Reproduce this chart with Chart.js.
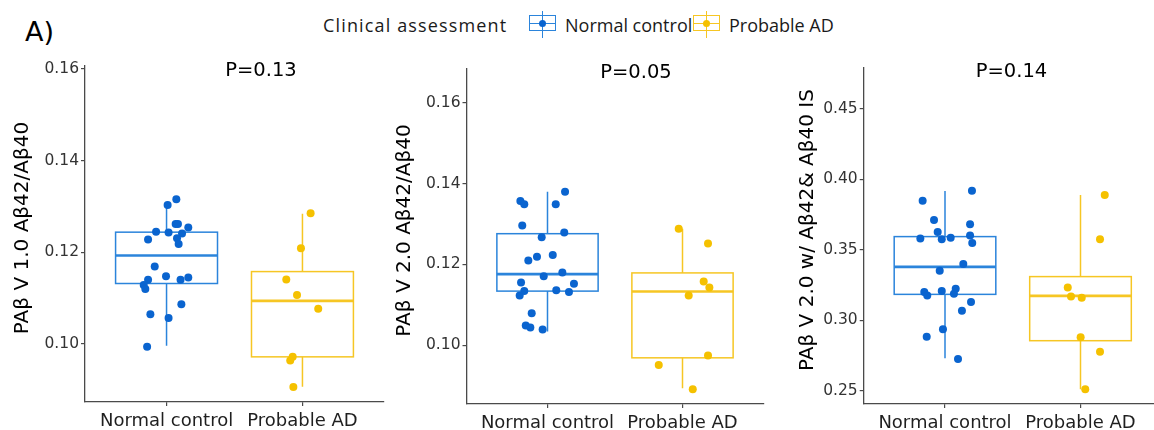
<!DOCTYPE html>
<html>
<head>
<meta charset="utf-8">
<script src="https://cdn.jsdelivr.net/npm/chart.js@4.4.1/dist/chart.umd.min.js"></script>
<style>
html,body{margin:0;padding:0;background:#ffffff;width:1154px;height:430px;overflow:hidden;position:relative}
.panel{position:absolute;top:0}
.panel canvas{display:block}
.txt{position:absolute;white-space:nowrap;line-height:1;color:#111}
.pval{position:absolute;white-space:nowrap;line-height:1;color:#000;font-family:'DejaVu Sans';font-size:19.5px;transform:translate(-50%,-50%)}
.leg{position:absolute;white-space:nowrap;line-height:1;color:#1a1a1a;font-family:'Open Sans';font-size:18px;top:15.5px}
.key{position:absolute;top:15px;width:27px;height:16px;box-sizing:border-box;border:1.5px solid}
.kv{position:absolute;top:10.5px;width:1.5px;height:27px}
.kh{position:absolute;top:22.5px;width:27px;height:1.6px}
.kd{position:absolute;top:19.5px;width:7.5px;height:7.5px;border-radius:50%}
</style>
</head>
<body>
<div class="txt" style="left:25px;top:18px;font-family:'DejaVu Sans';font-size:27px;color:#000">A)</div>

<div class="leg" style="left:323px;letter-spacing:1.15px">Clinical assessment</div>
<div class="kv" style="left:541.75px;background:#2B84DB"></div>
<div class="key" style="left:529px;border-color:#2B84DB;background:transparent"></div>
<div class="kh" style="left:529px;background:#2B84DB"></div>
<div class="kd" style="left:538.75px;background:#0A64CF"></div>
<div class="leg" style="left:565px">Normal control</div>
<div class="kv" style="left:705.75px;background:#F6C624"></div>
<div class="key" style="left:693px;border-color:#F6C624;background:transparent"></div>
<div class="kh" style="left:693px;background:#F6C624"></div>
<div class="kd" style="left:702.75px;background:#F5C100"></div>
<div class="leg" style="left:729px">Probable AD</div>

<div class="panel" style="left:0px"><canvas id="c1" width="392" height="430"></canvas></div>
<div class="panel" style="left:380px"><canvas id="c2" width="392" height="430"></canvas></div>
<div class="panel" style="left:770px"><canvas id="c3" width="400" height="430"></canvas></div>

<div class="pval" id="p1" style="left:261px;top:70px"></div>
<div class="pval" id="p2" style="left:636px;top:71.5px"></div>
<div class="pval" id="p3" style="left:1011.5px;top:71px"></div>

<script>
// ---------------- data ----------------
const categories = ['Normal control', 'Probable AD'];
const pLabels = ['P=0.13', 'P=0.05', 'P=0.14'];
const yTitles = ['PAβ V 1.0 Aβ42/Aβ40', 'PAβ V 2.0 Aβ42/Aβ40', 'PAβ V 2.0 w/ Aβ42& Aβ40 IS'];

const ticksPanel1 = [0.10, 0.12, 0.14, 0.16];
const ticksPanel2 = [0.10, 0.12, 0.14, 0.16];
const ticksPanel3 = [0.25, 0.30, 0.35, 0.40, 0.45];

const rangePanel1 = [0.08735, 0.16065];
const rangePanel2 = [0.08548, 0.16833];
const rangePanel3 = [0.24056, 0.4791];

// box statistics: [lower whisker, Q1, median, Q3, upper whisker]
const boxP1Normal = [0.0996, 0.1132, 0.1193, 0.1244, 0.1305];
const boxP1AD     = [0.0907, 0.0972, 0.1094, 0.1158, 0.1284];
const boxP2Normal = [0.1034, 0.1134, 0.1176, 0.1276, 0.1380];
const boxP2AD     = [0.0894, 0.0969, 0.1133, 0.1179, 0.1288];
const boxP3Normal = [0.2730, 0.3184, 0.3379, 0.3594, 0.3918];
const boxP3AD     = [0.2510, 0.2855, 0.3173, 0.3310, 0.3890];

// individual values and their horizontal jitter (category units)
const valsP1Normal = [0.1316,0.1303,0.1262,0.1262,0.1254,0.1245,0.1243,0.1241,0.1228,0.1231,0.1218,0.1169,0.1148,0.1145,0.1140,0.1140,0.1129,0.1120,0.1087,0.1065,0.1057,0.0994];
const jitP1Normal  = [0.072,0.008,0.067,0.084,0.160,-0.077,0.015,0.114,-0.136,0.077,0.089,-0.087,-0.004,0.160,-0.136,0.103,-0.168,-0.156,0.109,-0.119,0.015,-0.143];
const valsP1AD = [0.1285,0.1209,0.1141,0.1107,0.1077,0.0972,0.0964,0.0906];
const jitP1AD  = [0.060,-0.011,-0.119,-0.040,0.116,-0.072,-0.090,-0.067];

const valsP2Normal = [0.1380,0.1357,0.1349,0.1349,0.1296,0.1279,0.1267,0.1223,0.1219,0.1210,0.1180,0.1171,0.1155,0.1152,0.1134,0.1136,0.1132,0.1123,0.1079,0.1049,0.1044,0.1039];
const jitP2Normal  = [0.130,-0.201,-0.172,0.061,-0.187,0.124,-0.043,0.039,-0.078,-0.142,0.110,-0.028,-0.196,0.196,-0.172,0.065,0.159,-0.206,-0.117,-0.161,-0.127,-0.036];
const valsP2AD = [0.1288,0.1252,0.1158,0.1143,0.1123,0.0975,0.0951,0.0891];
const jitP2AD  = [-0.028,0.189,0.157,0.199,0.046,0.189,-0.176,0.076];

const valsP3Normal = [0.3920,0.3849,0.3712,0.3681,0.3627,0.3580,0.3575,0.3586,0.3601,0.3549,0.3400,0.3352,0.3201,0.3175,0.3208,0.3224,0.3189,0.3130,0.3068,0.2936,0.2883,0.2725];
const jitP3Normal  = [0.199,-0.165,-0.081,0.185,-0.054,-0.182,-0.024,0.042,0.185,0.201,0.135,-0.039,-0.153,-0.131,-0.024,0.079,0.066,0.192,0.125,-0.015,-0.135,0.096];
const valsP3AD = [0.3890,0.3575,0.3232,0.3168,0.3160,0.2879,0.2777,0.2510];
const jitP3AD  = [0.179,0.144,-0.094,-0.070,0.009,0.001,0.144,0.035];

// ---------------- styling ----------------
const dotColors = ['#0A64CF', '#F5C100'];
const boxColors = ['#2B84DB', '#F6C624'];
const axisColor = '#4a4a4a';

Chart.defaults.font.family = "'DejaVu Sans'";

function makeBoxPlugin(boxes) {
  return {
    id: 'boxes',
    beforeDatasetsDraw(chart) {
      const ctx = chart.ctx;
      const x = chart.scales.x, y = chart.scales.y;
      boxes.forEach((s, i) => {
        const xl = x.getPixelForValue(i - 0.375);
        const xr = x.getPixelForValue(i + 0.375);
        const xc = x.getPixelForValue(i);
        const lo = y.getPixelForValue(s[0]);
        const q1 = y.getPixelForValue(s[1]);
        const md = y.getPixelForValue(s[2]);
        const q3 = y.getPixelForValue(s[3]);
        const hi = y.getPixelForValue(s[4]);
        ctx.save();
        ctx.strokeStyle = boxColors[i];
        ctx.lineWidth = 1.5;
        ctx.beginPath();
        ctx.moveTo(xc, q3); ctx.lineTo(xc, hi);
        ctx.moveTo(xc, q1); ctx.lineTo(xc, lo);
        ctx.stroke();
        ctx.strokeRect(xl, q3, xr - xl, q1 - q3);
        ctx.lineWidth = 2.6;
        ctx.beginPath();
        ctx.moveTo(xl, md); ctx.lineTo(xr, md);
        ctx.stroke();
        ctx.restore();
      });
    }
  };
}

// y-axis title, centred a little above the middle of the axis as in the source figure
function makeYTitlePlugin(text, cx) {
  return {
    id: 'ytitle',
    afterDraw(chart) {
      const ctx = chart.ctx;
      const a = chart.chartArea;
      ctx.save();
      ctx.translate(cx, (a.top + a.bottom) / 2 - 6);
      ctx.rotate(-Math.PI / 2);
      ctx.font = "20px 'DejaVu Sans'";
      ctx.fillStyle = '#000000';
      ctx.textAlign = 'center';
      ctx.textBaseline = 'middle';
      ctx.fillText(text, 0, 0);
      ctx.restore();
    }
  };
}

function makePanel(canvasId, cfg) {
  const datasets = cfg.groups.map((g, i) => ({
    type: 'scatter',
    data: g.vals.map((v, k) => ({ x: i + g.jit[k], y: v })),
    backgroundColor: dotColors[i],
    borderWidth: 0,
    pointRadius: 4,
    pointHoverRadius: 4,
    clip: false
  }));
  return new Chart(document.getElementById(canvasId), {
    type: 'scatter',
    data: { datasets },
    plugins: [makeBoxPlugin(cfg.groups.map(g => g.box)), makeYTitlePlugin(cfg.title, cfg.titleX)],
    options: {
      responsive: false,
      animation: false,
      events: [],
      layout: { padding: { top: cfg.top, right: cfg.right, bottom: 0, left: 0 } },
      plugins: { legend: { display: false }, tooltip: { enabled: false }, title: { display: false } },
      scales: {
        x: {
          type: 'linear',
          min: -0.6, max: 1.6,
          afterBuildTicks: (s) => { s.ticks = categories.map((c, i) => ({ value: i })); },
          afterFit: (s) => { s.height = cfg.xHeight; },
          ticks: {
            callback: (v, i) => categories[i],
            color: '#1f1f1f',
            font: { size: 18 },
            padding: 5,
            maxRotation: 0,
            autoSkip: false
          },
          grid: { drawOnChartArea: false, drawTicks: true, tickLength: 4, color: axisColor, lineWidth: 1.2 },
          border: { display: true, color: axisColor, width: 1.3 }
        },
        y: {
          type: 'linear',
          min: cfg.range[0], max: cfg.range[1],
          afterBuildTicks: (s) => { s.ticks = cfg.ticks.map(v => ({ value: v })); },
          afterFit: (s) => { s.width = cfg.yWidth; },
          ticks: {
            callback: (v) => v.toFixed(2),
            color: '#333333',
            font: { size: 15.5 },
            padding: 2
          },
          grid: { drawOnChartArea: false, drawTicks: true, tickLength: 4, color: axisColor, lineWidth: 1.2 },
          border: { display: true, color: axisColor, width: 1.3 }
        }
      }
    }
  });
}

pLabels.forEach((t, i) => { document.getElementById('p' + (i + 1)).textContent = t; });

makePanel('c1', {
  top: 66, right: 8, xHeight: 28, yWidth: 85, titleX: 23,
  range: rangePanel1, ticks: ticksPanel1, title: yTitles[0],
  groups: [
    { box: boxP1Normal, vals: valsP1Normal, jit: jitP1Normal },
    { box: boxP1AD, vals: valsP1AD, jit: jitP1AD }
  ]
});
makePanel('c2', {
  top: 69, right: 8.5, xHeight: 26, yWidth: 86.5, titleX: 25,
  range: rangePanel2, ticks: ticksPanel2, title: yTitles[1],
  groups: [
    { box: boxP2Normal, vals: valsP2Normal, jit: jitP2Normal },
    { box: boxP2AD, vals: valsP2AD, jit: jitP2AD }
  ]
});
makePanel('c3', {
  top: 68, right: 8.2, xHeight: 26, yWidth: 93.7, titleX: 37.5,
  range: rangePanel3, ticks: ticksPanel3, title: yTitles[2],
  groups: [
    { box: boxP3Normal, vals: valsP3Normal, jit: jitP3Normal },
    { box: boxP3AD, vals: valsP3AD, jit: jitP3AD }
  ]
});
</script>
</body>
</html>
